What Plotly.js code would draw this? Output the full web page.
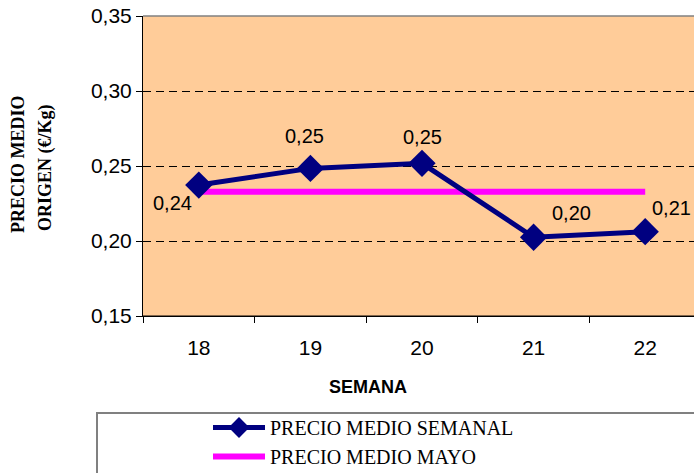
<!DOCTYPE html>
<html>
<head>
<meta charset="utf-8">
<script src="https://cdn.plot.ly/plotly-3.0.1.min.js"></script>
<style>
html,body{margin:0;padding:0;overflow:hidden;background:#fff;}
#chart{width:710px;height:473px;}
</style>
</head>
<body>
<div id="chart"></div>
<script>
// ---- data ----
var weeks = ['18', '19', '20', '21', '22'];
var precioSemanal = [0.2373, 0.2484, 0.2518, 0.2025, 0.2062];
var semanalLabels = ['0,24', '0,25', '0,25', '0,20', '0,21'];
var precioMayo = [0.2329, 0.2329, 0.2329, 0.2329, 0.2329];
var seriesNames = ['PRECIO MEDIO SEMANAL', 'PRECIO MEDIO MAYO'];
var yTickVals = [0.15, 0.20, 0.25, 0.30, 0.35];
var xTitle = 'SEMANA';
var yTitleLines = ['PRECIO MEDIO', 'ORIGEN (€/Kg)'];

// label offsets (style only), in px relative to each point
var labelDx = [-26, -6, 0, 38, 26];
var labelDy = [-18, 32, 26, 24, 24];

var SANS = 'Liberation Sans, Arial, sans-serif';
var SERIF = 'Liberation Serif, Times New Roman, serif';

var W = 710, H = 473;
var L = 143, R = 9, T = 16, B = 157;
var pw = W - L - R, ph = H - T - B;
function px2x(p){ return (p - L) / pw; }
function px2y(p){ return (H - B - p) / ph; }

var traces = [
  {
    x: weeks, y: precioMayo, name: seriesNames[1], type: 'scatter', mode: 'lines',
    line: {color: '#FF00FF', width: 6},
    legendrank: 2, hoverinfo: 'skip'
  },
  {
    x: weeks, y: precioSemanal, name: seriesNames[0], type: 'scatter', mode: 'lines+markers',
    line: {color: '#000080', width: 5},
    marker: {symbol: 'diamond', size: 21, color: '#000080'},
    legendrank: 1, cliponaxis: false
  }
];

var annotations = [
  {text: '<b>' + xTitle + '</b>', xref: 'paper', yref: 'paper',
   x: px2x(368), y: px2y(387), xanchor: 'center', yanchor: 'middle',
   showarrow: false, font: {family: SANS, size: 18, color: '#000'}},
  {text: '<b>' + yTitleLines[0] + '</b>', xref: 'paper', yref: 'paper',
   x: px2x(18), y: px2y(164), xanchor: 'center', yanchor: 'middle', textangle: -90,
   showarrow: false, font: {family: SERIF, size: 18, color: '#000'}},
  {text: '<b>' + yTitleLines[1] + '</b>', xref: 'paper', yref: 'paper',
   x: px2x(46), y: px2y(168), xanchor: 'center', yanchor: 'middle', textangle: -90,
   showarrow: false, font: {family: SERIF, size: 18, color: '#000'}}
];
for (var i = 0; i < weeks.length; i++) {
  // on a category axis the annotation x is the category index
  annotations.push({
    x: weeks.indexOf(weeks[i]), y: precioSemanal[i], xref: 'x', yref: 'y',
    text: semanalLabels[i], showarrow: false,
    xanchor: 'center', yanchor: 'middle',
    xshift: labelDx[i], yshift: labelDy[i],
    font: {family: SANS, size: 20, color: '#000'}
  });
}

var layout = {
  width: W, height: H,
  margin: {l: L, r: R, t: T, b: B, autoexpand: false},
  paper_bgcolor: '#ffffff',
  plot_bgcolor: '#FFCC99',
  separators: ',.',
  showlegend: true,
  legend: {
    x: px2x(208), xanchor: 'left',
    y: px2y(408), yanchor: 'top',
    bgcolor: 'rgba(0,0,0,0)', borderwidth: 0,
    font: {family: SERIF, size: 20, color: '#000'},
    itemwidth: 52,
    tracegroupgap: 0
  },
  xaxis: {
    type: 'category',
    range: [-0.5, 4.5],
    showline: true, linecolor: '#000', linewidth: 1,
    ticks: 'outside', ticklen: 6, tickcolor: '#000', tickson: 'boundaries',
    showgrid: false, zeroline: false,
    tickfont: {family: SANS, size: 21, color: '#000'},
    ticklabelstandoff: 13,
    fixedrange: true
  },
  yaxis: {
    range: [0.15, 0.35],
    tickvals: yTickVals,
    tickformat: '.2f',
    showline: true, linecolor: '#000', linewidth: 1,
    ticks: 'outside', ticklen: 6, tickcolor: '#000',
    showgrid: true, gridcolor: '#000', gridwidth: 1, griddash: '8px,5px',
    zeroline: false,
    tickfont: {family: SANS, size: 21, color: '#000'},
    fixedrange: true
  },
  shapes: [
    {type: 'line', xref: 'x domain', yref: 'y domain', x0: 0, x1: 1, y0: 1, y1: 1,
     line: {color: '#808080', width: 1.5}, layer: 'above'},
    {type: 'line', xref: 'x domain', yref: 'y domain', x0: 0, x1: 1, y0: 0, y1: 0,
     line: {color: '#000', width: 1}, layer: 'above'},
    {type: 'rect', xref: 'paper', yref: 'paper',
     x0: px2x(97), x1: px2x(760), y0: px2y(413), y1: px2y(520),
     line: {color: '#808080', width: 2}, fillcolor: 'rgba(0,0,0,0)', layer: 'below'}
  ],
  annotations: annotations
};

Plotly.newPlot('chart', traces, layout, {displayModeBar: false, staticPlot: true});
</script>
</body>
</html>
